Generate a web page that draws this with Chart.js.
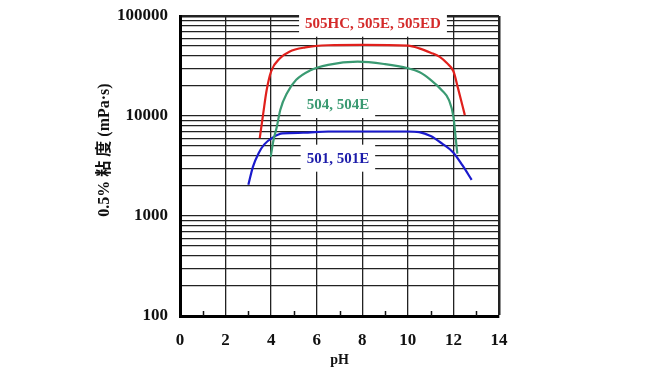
<!DOCTYPE html>
<html><head><meta charset="utf-8">
<script src="https://cdn.jsdelivr.net/npm/chart.js@4.4.1/dist/chart.umd.min.js"></script>
<style>html,body{margin:0;padding:0;background:#fff}</style>
</head><body>
<canvas id="c" width="652" height="369"></canvas>
<script>
// ---- data ----
const xTickValues = [0,1,2,3,4,5,6,7,8,9,10,11,12,13,14];
const yTickValues = [100,200,300,400,500,600,700,800,900,1000,2000,3000,4000,5000,6000,7000,8000,9000,10000,20000,30000,40000,50000,60000,70000,80000,90000,100000];
const seriesNames = ['505HC, 505E, 505ED', '504, 504E', '501, 501E'];
const yAxisTitle = '0.5% 粘 度 (mPa·s)';
const xAxisTitle = 'pH';

const redPH   = [3.5, 3.65, 3.8, 4.0, 4.4, 4.8, 5.5, 6.5, 8.0, 10.0, 10.5, 11.0, 11.4, 11.7, 12.0, 12.2, 12.5];
const redVisc = [6000, 10500, 18000, 28000, 38000, 44000, 48500, 51000, 51500, 50500, 47500, 43000, 39000, 34000, 28000, 19000, 10200];

const greenPH   = [3.98, 4.1, 4.25, 4.4, 4.7, 5.1, 5.7, 6.5, 7.8, 9.0, 10.0, 10.5, 11.0, 11.5, 11.8, 12.0, 12.1, 12.17];
const greenVisc = [3900, 5700, 7800, 11500, 17000, 23000, 28500, 32500, 35000, 33000, 30000, 27500, 23000, 18000, 14500, 9800, 6000, 4200];

const bluePH   = [3.0, 3.2, 3.45, 3.7, 4.1, 4.5, 5.4, 6.5, 8.0, 10.0, 10.5, 11.0, 11.5, 12.0, 12.4, 12.8];
const blueVisc = [2050, 3100, 4250, 5200, 6150, 6700, 6800, 7000, 7000, 7000, 6900, 6300, 5300, 4300, 3200, 2300];

// ---- chart ----
const toPts = (xs, ys) => xs.map((x, i) => ({x: x, y: ys[i]}));
const colors = ['#e0201c', '#3a9a72', '#1a1acc'];
const textColors = ['#d42a2a', '#3a9a72', '#1c1caa'];
const labelAnchors = [[8.47, 85700], [6.93, 13180], [6.93, 3830]];
const serif = '"Liberation Serif", "Times New Roman", "Noto Sans CJK JP", serif';

const labelPlugin = {
  id: 'labels',
  beforeDatasetsDraw(chart) {
    const ctx = chart.ctx, xs = chart.scales.x, ys = chart.scales.y;
    ctx.save();
    ctx.font = 'bold 15px ' + serif;
    ctx.textAlign = 'center';
    ctx.textBaseline = 'middle';
    seriesNames.forEach((t, i) => {
      const px = xs.getPixelForValue(labelAnchors[i][0]);
      const py = ys.getPixelForValue(labelAnchors[i][1]);
      const w = ctx.measureText(t).width + 12;
      ctx.fillStyle = '#fff';
      ctx.fillRect(px - w / 2, py - 13, w, 27);
      ctx.fillStyle = textColors[i];
      ctx.fillText(t, px, py + 1);
    });
    // minor ticks on x axis (odd pH)
    ctx.strokeStyle = '#111';
    ctx.lineWidth = 1.5;
    const bottom = chart.chartArea.bottom;
    xTickValues.filter(v => v % 2 === 1).forEach(v => {
      const x = Math.round(xs.getPixelForValue(v)) + 0.5;
      ctx.beginPath(); ctx.moveTo(x, bottom); ctx.lineTo(x, bottom - 5); ctx.stroke();
    });
    ctx.restore();
  },
  afterDraw(chart) {
    const ctx = chart.ctx;
    ctx.save();
    ctx.font = 'bold 16px ' + serif;
    ctx.fillStyle = '#111';
    ctx.textAlign = 'center';
    ctx.textBaseline = 'middle';
    ctx.translate(105, 150);
    ctx.rotate(-Math.PI / 2);
    ctx.fillText(yAxisTitle, 0, 0);
    ctx.restore();
  }
};

new Chart(document.getElementById('c'), {
  type: 'line',
  data: {
    datasets: [
      {label: seriesNames[0], data: toPts(redPH, redVisc), borderColor: colors[0]},
      {label: seriesNames[1], data: toPts(greenPH, greenVisc), borderColor: colors[1]},
      {label: seriesNames[2], data: toPts(bluePH, blueVisc), borderColor: colors[2]}
    ]
  },
  options: {
    responsive: false,
    animation: false,
    elements: {
      point: {radius: 0},
      line: {borderWidth: 2.2, cubicInterpolationMode: 'monotone', fill: false}
    },
    layout: {padding: {top: 16, right: 153, bottom: 0, left: 0}},
    plugins: {legend: {display: false}, tooltip: {enabled: false}},
    scales: {
      x: {
        type: 'linear', min: 0, max: 14,
        afterBuildTicks: s => { s.ticks = xTickValues.map(v => ({value: v})); },
        afterFit: s => { s.height = 53; s.paddingLeft = 0; s.paddingRight = 0; },
        ticks: {
          autoSkip: false, maxRotation: 0, padding: 14, color: '#111',
          font: {family: serif, size: 17, weight: 'bold'},
          callback: v => (v % 2 === 0 ? String(v) : '')
        },
        grid: {
          drawTicks: false,
          color: c => (c.tick && c.tick.value % 2 === 1 ? 'rgba(0,0,0,0)' : '#222'),
          lineWidth: c => (c.tick && c.tick.value === 14 ? 2.5 : 1.3)
        },
        border: {display: true, color: '#000', width: 3},
        title: {display: true, text: xAxisTitle, color: '#111', padding: {top: 1, bottom: 0},
                font: {family: serif, size: 14, weight: 'bold'}}
      },
      y: {
        type: 'logarithmic', min: 100, max: 100000,
        afterBuildTicks: s => { s.ticks = yTickValues.map(v => ({value: v})); },
        afterFit: s => { s.width = 180; s.paddingTop = 0; s.paddingBottom = 0; },
        ticks: {
          autoSkip: false, padding: 12, color: '#111',
          font: {family: serif, size: 17, weight: 'bold'},
          callback: v => { const l = Math.log10(v); return Math.abs(l - Math.round(l)) < 1e-9 ? String(v) : ''; }
        },
        grid: {
          drawTicks: false,
          color: '#222',
          lineWidth: c => (c.tick && c.tick.value === 100000 ? 2.5 : 1.3)
        },
        border: {display: true, color: '#000', width: 3}
      }
    }
  },
  plugins: [labelPlugin]
});
</script>
</body></html>
